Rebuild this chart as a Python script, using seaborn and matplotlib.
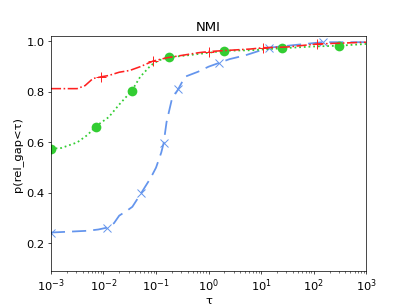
import numpy as np
import pandas as pd
import matplotlib
matplotlib.use("Agg")
import matplotlib.pyplot as plt
import seaborn as sns

# log10(tau) and profile values
red_logx = [-3, -2.5, -2.35, -2.2, -2.04, -1.9, -1.7, -1.5, -1.3, -1.06, -0.8, -0.5, -0.2, 0.0, 0.4, 0.8, 1.03, 1.5, 2.07, 2.5, 3]
red_y = [0.813, 0.813, 0.825, 0.853, 0.860, 0.865, 0.878, 0.885, 0.900, 0.922, 0.935, 0.945, 0.955, 0.960, 0.965, 0.970, 0.975, 0.978, 0.990, 0.993, 0.997]
red_marks = [4, 9, 13, 16, 18]

green_logx = [-3, -2.8, -2.5, -2.3, -2.15, -1.9, -1.7, -1.46, -1.3, -1.1, -0.95, -0.76, -0.4, 0.0, 0.3, 0.8, 1.39, 2.0, 2.48, 3]
green_y = [0.575, 0.578, 0.60, 0.63, 0.663, 0.70, 0.75, 0.805, 0.86, 0.905, 0.925, 0.937, 0.945, 0.955, 0.963, 0.965, 0.973, 0.980, 0.983, 0.99]
green_marks = [0, 4, 7, 11, 14, 16, 18]

blue_logx = [-3, -2.3, -2.1, -1.94, -1.8, -1.7, -1.55, -1.45, -1.28, -1.1, -1.0, -0.9, -0.855, -0.8, -0.7, -0.58, -0.45, -0.2, 0.0, 0.2, 0.4, 0.7, 1.145, 1.6, 2.17, 3]
blue_y = [0.243, 0.25, 0.255, 0.262, 0.28, 0.31, 0.33, 0.345, 0.40, 0.46, 0.5, 0.56, 0.597, 0.68, 0.77, 0.81, 0.86, 0.88, 0.90, 0.915, 0.93, 0.945, 0.975, 0.985, 0.997, 0.997]
blue_marks = [0, 3, 8, 12, 15, 19, 22, 24]

fig, ax = plt.subplots(figsize=(6.4, 4.8), dpi=407/6.4)

series = [
    (blue_logx, blue_y, blue_marks, "cornflowerblue", (0, (8, 4)), "x", 10, 2.0),
    (green_logx, green_y, green_marks, "limegreen", ":", "o", 11, 2.0),
    (red_logx, red_y, red_marks, "#ff2020", "-.", "+", 11, 1.8),
]
for lx, y, mk, col, ls, m, ms, lw in series:
    df = pd.DataFrame({"tau": 10.0 ** np.array(lx), "p": y})
    sns.lineplot(data=df, x="tau", y="p", ax=ax, color=col, linestyle=ls, marker=m,
                 markersize=ms, markevery=mk, linewidth=lw, sort=False, estimator=None,
                 markeredgecolor=col, markerfacecolor=col)
    ln = ax.lines[-1]
    ln.set_color(col)
    ln.set_markeredgecolor(col)
    ln.set_markerfacecolor(col)
    ln.set_markeredgewidth(1.1 if m != "o" else 0)

ax.set_xscale("log")
ax.set_xlim(1e-3, 1e3)
ax.set_ylim(0.089, 1.02)
ax.set_yticks([0.2, 0.4, 0.6, 0.8, 1.0])
ax.set_title("NMI", fontsize=15)
ax.set_xlabel("τ", fontsize=13, labelpad=2)
ax.set_ylabel("p(rel_gap<τ)", fontsize=13)
ax.tick_params(labelsize=13)
fig.savefig("out.png", dpi=407/6.4)
